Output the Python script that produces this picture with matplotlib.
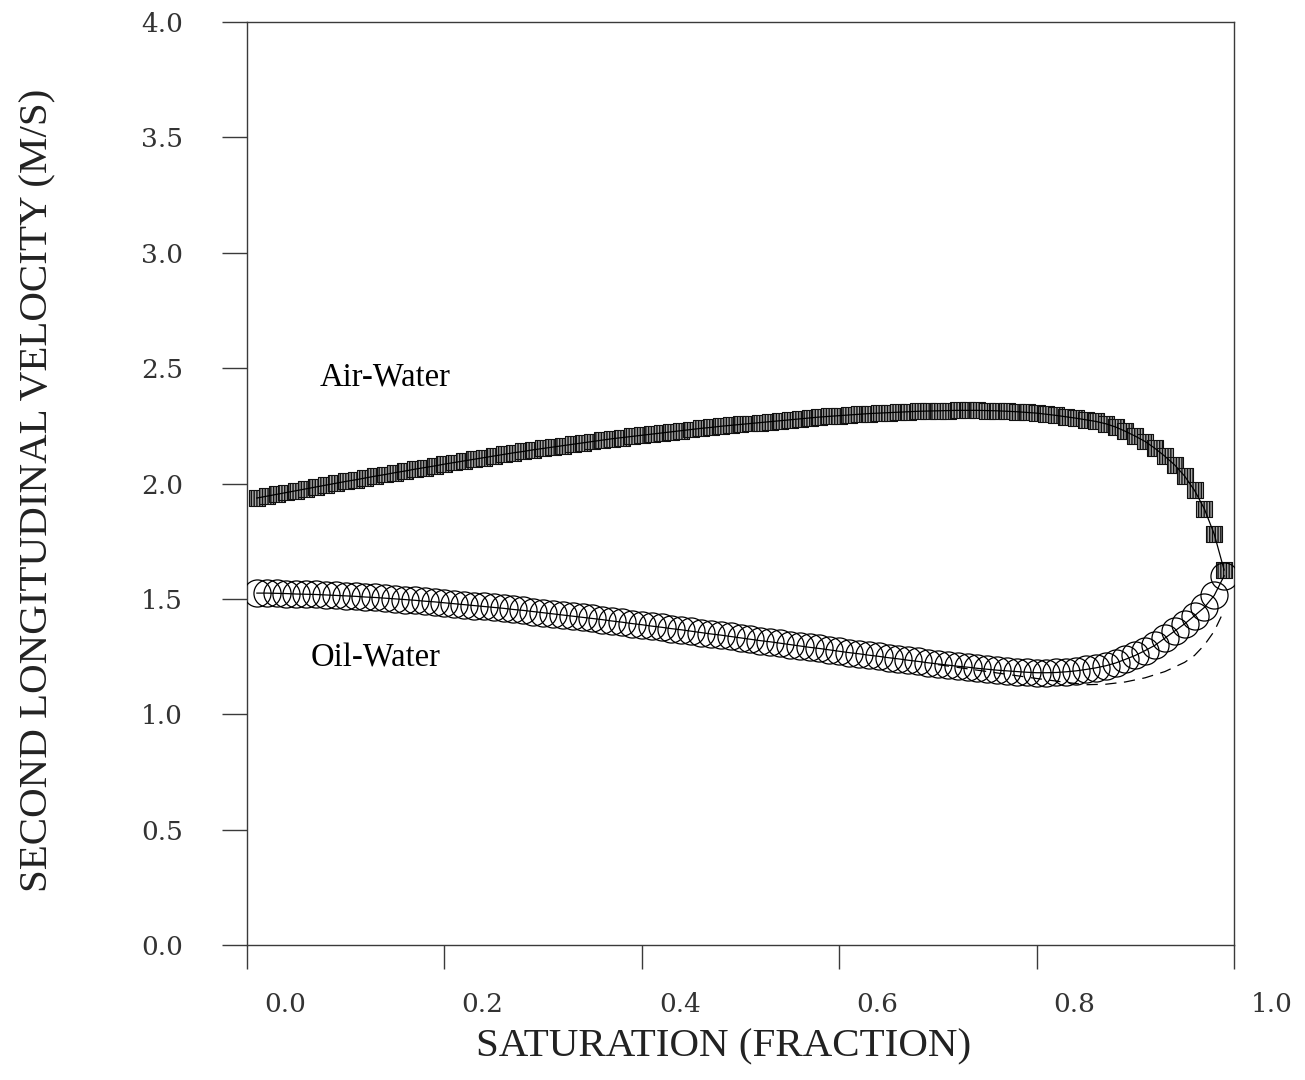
import matplotlib
matplotlib.use("Agg")
import matplotlib.pyplot as plt
from matplotlib.transforms import ScaledTranslation

# ---------------- data ----------------
saturation = [round(0.01 * i, 2) for i in range(1, 100)]

air_water = [
    1.937, 1.945, 1.953, 1.961, 1.969, 1.977, 1.985, 1.993, 2.001, 2.009,
    2.016, 2.024, 2.032, 2.039, 2.047, 2.054, 2.062, 2.069, 2.076, 2.084,
    2.091, 2.098, 2.105, 2.112, 2.119, 2.126, 2.133, 2.139, 2.146, 2.152,
    2.158, 2.164, 2.170, 2.176, 2.182, 2.188, 2.194, 2.199, 2.204, 2.209,
    2.214, 2.219, 2.224, 2.229, 2.234, 2.239, 2.243, 2.248, 2.252, 2.256,
    2.260, 2.264, 2.268, 2.272, 2.276, 2.280, 2.284, 2.288, 2.291, 2.294,
    2.297, 2.300, 2.303, 2.305, 2.307, 2.309, 2.311, 2.313, 2.314, 2.315,
    2.316, 2.317, 2.317, 2.317, 2.316, 2.315, 2.313, 2.311, 2.308, 2.305,
    2.300, 2.295, 2.289, 2.283, 2.276, 2.269, 2.259, 2.245, 2.226, 2.205,
    2.182, 2.152, 2.118, 2.080, 2.032, 1.970, 1.890, 1.780, 1.625,
]

oil_water = [
    1.525, 1.525, 1.524, 1.523, 1.521, 1.520, 1.519, 1.517, 1.515, 1.513,
    1.511, 1.508, 1.506, 1.503, 1.500, 1.497, 1.494, 1.490, 1.487, 1.483,
    1.479, 1.475, 1.471, 1.467, 1.463, 1.459, 1.454, 1.450, 1.445, 1.440,
    1.435, 1.430, 1.425, 1.420, 1.415, 1.410, 1.404, 1.399, 1.393, 1.388,
    1.382, 1.377, 1.371, 1.366, 1.360, 1.354, 1.348, 1.343, 1.337, 1.331,
    1.325, 1.319, 1.314, 1.308, 1.302, 1.296, 1.290, 1.285, 1.279, 1.273,
    1.267, 1.262, 1.256, 1.251, 1.245, 1.240, 1.234, 1.229, 1.223, 1.218,
    1.213, 1.208, 1.204, 1.199, 1.195, 1.191, 1.188, 1.185, 1.182, 1.180,
    1.180, 1.181, 1.184, 1.188, 1.194, 1.201, 1.210, 1.222, 1.238, 1.255,
    1.276, 1.299, 1.330, 1.361, 1.392, 1.427, 1.463, 1.515, 1.600,
]

dashed_x = [0.70, 0.75, 0.80, 0.83, 0.85, 0.87, 0.89, 0.91, 0.93, 0.95, 0.96, 0.97, 0.98, 0.99]
dashed_y = [1.215, 1.185, 1.155, 1.138, 1.128, 1.130, 1.140, 1.158, 1.185, 1.225, 1.255, 1.300, 1.360, 1.450]

x_ticks = [0.0, 0.2, 0.4, 0.6, 0.8, 1.0]
x_tick_labels = ["0.0", "0.2", "0.4", "0.6", "0.8", "1.0"]
y_ticks = [0.0, 0.5, 1.0, 1.5, 2.0, 2.5, 3.0, 3.5, 4.0]
y_tick_labels = ["0.0", "0.5", "1.0", "1.5", "2.0", "2.5", "3.0", "3.5", "4.0"]

x_label = "SATURATION (FRACTION)"
y_label = "SECOND LONGITUDINAL VELOCITY (M/S)"
label_air = "Air-Water"
label_oil = "Oil-Water"

# ---------------- figure ----------------
W, H, DPI = 1305, 1080, 100
fig = plt.figure(figsize=(W / DPI, H / DPI), dpi=DPI)
ax = fig.add_axes([247 / W, 1 - 945 / H, (1234 - 247) / W, (945 - 22) / H])

serif = ["Liberation Serif", "DejaVu Serif"]
axis_col = "#3a3a3a"

# Air-water squares (hatched grey)
ax.scatter(saturation, air_water, marker="s", s=11.5 ** 2, facecolor="#a8a8a8",
           edgecolor="#111111", linewidths=0.8, hatch="||||||", zorder=3)
ax.plot(saturation, air_water, color="black", lw=0.9, zorder=4)

# Oil-water circles
ax.plot(saturation, oil_water, linestyle="none", marker="o", markersize=19.5,
        markerfacecolor="none", markeredgecolor="black", markeredgewidth=0.9, zorder=3)
ax.plot(saturation, oil_water, color="black", lw=0.9, zorder=4)

# dashed companion curve
ax.plot(dashed_x, dashed_y, color="black", lw=0.9, linestyle=(0, (9, 6)), zorder=2)

ax.text(0.074, 2.46, label_air, fontsize=23.5, family=serif, va="center", ha="left")
ax.text(0.064, 1.244, label_oil, fontsize=23.5, family=serif, va="center", ha="left")

ax.set_xlim(0.0, 1.0)
ax.set_ylim(0.0, 4.0)
ax.set_xticks(x_ticks)
ax.set_xticklabels(x_tick_labels)
ax.set_yticks(y_ticks)
ax.set_yticklabels(y_tick_labels)

for sp in ax.spines.values():
    sp.set_color(axis_col)
    sp.set_linewidth(1.0)

ax.tick_params(axis="x", direction="out", length=17, width=1.0, color=axis_col,
               pad=17, labelsize=19)
ax.tick_params(axis="y", direction="out", length=18, width=1.0, color=axis_col,
               pad=28, labelsize=19)
for lab in ax.get_xticklabels() + ax.get_yticklabels():
    lab.set_family(["DejaVu Serif"])
    lab.set_color("#333333")

# shift x tick labels to the right as in the reference
offset = ScaledTranslation(38 / DPI, 0, fig.dpi_scale_trans)
for lab in ax.get_xticklabels():
    lab.set_transform(lab.get_transform() + offset)

fig.text(724 / W, 1 - 1047 / H, x_label, fontsize=29.5, family=serif,
         ha="center", va="center", color="#222222")
fig.text(38 / W, 1 - 490 / H, y_label, fontsize=29.5, family=serif,
         ha="center", va="center", rotation=90, color="#222222")

fig.savefig("out.png", dpi=DPI)
